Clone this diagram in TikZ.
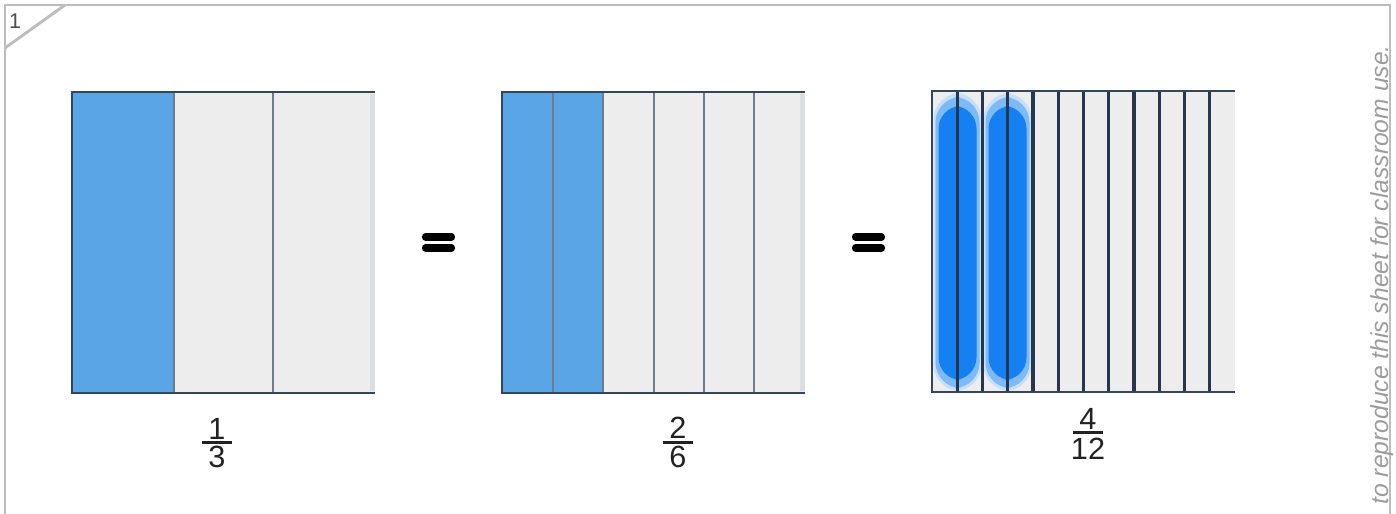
\documentclass[tikz,border=0pt]{standalone}
\usepackage{fontspec}
\setmainfont{Liberation Sans}
\usetikzlibrary{positioning,calc}
\definecolor{frame}{HTML}{BDBDBD}
\definecolor{tint}{HTML}{5AA5E6}
\definecolor{paper}{HTML}{EDEDED}
\definecolor{edge}{HTML}{34465C}
\definecolor{divider}{HTML}{6E7D8E}
\definecolor{rim}{HTML}{DADEE2}
\definecolor{grid}{HTML}{26364F}
\definecolor{crayon}{HTML}{1580F2}
\definecolor{ink}{HTML}{222222}
\definecolor{muted}{HTML}{9C9C9C}
\tikzset{
  base/.style={font=\fontsize{23}{25}\selectfont, text=ink, inner sep=0pt},
  digit/.style={base},
  corner/.style={base, font=\fontsize{16}{18}\selectfont, text=ink!80},
  fracbar/.style={line width=2pt, draw=ink},
  framebox/.style={line width=2.2pt, draw=frame},
  outline/.style={line width=1.6pt, draw=edge},
  sep/.style={line width=2.2pt, draw=divider},
  gridline/.style={line width=2.3pt, draw=grid},
  equal/.style={line width=5.4pt, line cap=round, draw=black},
  notice/.style={font=\itshape\fontsize{18.5}{20}\selectfont, text=muted, inner sep=0pt, rotate=90},
}
\begin{document}
\begin{tikzpicture}[x=0.75pt,y=-0.75pt]
  \useasboundingbox (0,0) rectangle (1396,514);

  % sheet frame
  \draw[framebox] (5,514) -- (5,5) -- (1390,5) -- (1390,514);
  \draw[framebox] (5,48) -- (65,5);
  \node[corner] (qnum) at (15,21) {1};
  \node[notice,anchor=east] (note) at (1382,45) {to reproduce this sheet for classroom use.};

  % one third
  \fill[tint] (72,92) rectangle (174,393);
  \fill[paper] (174,92) rectangle (375,393);
  \fill[rim] (370,94) rectangle (375,391);
  \foreach \x in {174,273}
    \draw[sep] (\x,92) -- (\x,393);
  \draw[outline] (375,92) -- (72,92) -- (72,393) -- (375,393);

  % two sixths
  \fill[tint] (502,92) rectangle (603,393);
  \fill[paper] (603,92) rectangle (805,393);
  \fill[rim] (800,94) rectangle (805,391);
  \foreach \x in {553,603,654,704,754}
    \draw[sep] (\x,92) -- (\x,393);
  \draw[outline] (805,92) -- (502,92) -- (502,393) -- (805,393);

  % four twelfths
  \fill[paper] (932,91) rectangle (1235,392);
  \foreach \cx in {957.5,1007.5}{
    \fill[crayon!25,rounded corners=20pt] (\cx-24,93) rectangle (\cx+24,391);
    \fill[crayon!55,rounded corners=19pt] (\cx-22,97) rectangle (\cx+22,388);
    \fill[crayon,rounded corners=17pt] (\cx-19,106) rectangle (\cx+19,380);
  }
  \foreach \i in {1,...,11}
    \draw[gridline] ({932+\i*25.25},91) -- ({932+\i*25.25},392);
  \draw[outline] (1235,91) -- (932,91) -- (932,392) -- (1235,392);

  % equals signs
  \foreach \x/\n in {422/eqa,852/eqb}{
    \draw[equal] (\x+3.5,237) coordinate (\n) -- (\x+29.5,237);
    \draw[equal] (\x+3.5,248) -- (\x+29.5,248);
  }

  % fractions
  \node[digit] (n1) at (217,429) {1};
  \node[digit] (d1) at (217,457) {3};
  \draw[fracbar] ($(n1.south)+(-15,2.5)$) -- ($(n1.south)+(15,2.5)$);

  \node[digit] (n2) at (678,428) {2};
  \node[digit] (d2) at (678,457) {6};
  \draw[fracbar] ($(n2.south)+(-15,3.5)$) -- ($(n2.south)+(15,3.5)$);

  \node[digit] (n3) at (1088,419) {4};
  \node[digit] (d3) at (1088,449) {12};
  \draw[fracbar] ($(n3.south)+(-15,3)$) -- ($(n3.south)+(15,3)$);
\end{tikzpicture}
\end{document}
